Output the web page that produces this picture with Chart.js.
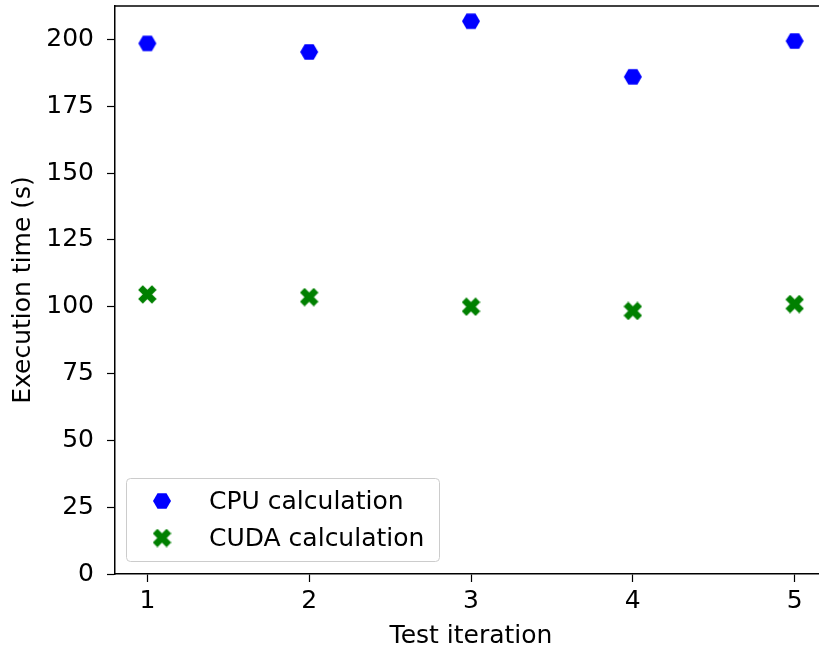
<!DOCTYPE html>
<html>
<head>
<meta charset="utf-8">
<script src="https://cdn.jsdelivr.net/npm/chart.js@4.4.0/dist/chart.umd.min.js"></script>
<style>
    html, body { margin: 0; padding: 0; background: #fff; overflow: hidden; }
    #wrap { width: 840px; height: 653px; }
</style>
</head>
<body>
<div id="wrap"><canvas id="scatter"></canvas></div>
<script>
// Test runs and measured execution times (seconds)
const iterations = [1, 2, 3, 4, 5];
const cpuTimes = [198.5, 195.3, 206.8, 186.0, 199.4];
const cudaTimes = [104.6, 103.6, 100.0, 98.4, 101.0];
const yTicks = [0, 25, 50, 75, 100, 125, 150, 175, 200];

const FONT = 'DejaVu Sans';
const FS = 25;

// Flat-topped hexagon marker
function hexMarker(color, r) {
    const c = document.createElement('canvas');
    const s = Math.ceil(r * 2 + 2);
    c.width = s; c.height = s;
    const g = c.getContext('2d');
    g.fillStyle = color;
    g.beginPath();
    for (let i = 0; i < 6; i++) {
        const a = Math.PI / 3 * i;
        const px = s / 2 + r * Math.cos(a);
        const py = s / 2 + r * Math.sin(a);
        if (i === 0) g.moveTo(px, py); else g.lineTo(px, py);
    }
    g.closePath();
    g.fill();
    return c;
}

// Filled "X" marker
function xMarker(color, r) {
    const c = document.createElement('canvas');
    const s = Math.ceil(r * 2 + 2);
    c.width = s; c.height = s;
    const g = c.getContext('2d');
    g.translate(s / 2, s / 2);
    g.rotate(Math.PI / 4);
    g.fillStyle = color;
    const w = r * 0.78, l = r * 1.15;
    g.fillRect(-l, -w / 2, l * 2, w);
    g.fillRect(-w / 2, -l, w, l * 2);
    return c;
}

const cpuMarker = hexMarker('#0000ff', 9);
const cudaMarker = xMarker('#008000', 8.5);

// Top spine line
const frame = {
    id: 'frame',
    afterDraw(chart) {
        const { ctx, chartArea } = chart;
        ctx.save();
        ctx.strokeStyle = '#000';
        ctx.lineWidth = 1.5;
        ctx.beginPath();
        ctx.moveTo(chartArea.left, chartArea.top);
        ctx.lineTo(chartArea.right, chartArea.top);
        ctx.stroke();
        ctx.restore();
    }
};

// Legend box inside the plot, lower left
const boxLegend = {
    id: 'boxLegend',
    afterDraw(chart) {
        const ctx = chart.ctx;
        const x = 126, y = 478, w = 313, h = 83, r = 4;
        ctx.save();
        ctx.fillStyle = 'rgba(255,255,255,0.8)';
        ctx.strokeStyle = '#cccccc';
        ctx.lineWidth = 1;
        ctx.beginPath();
        ctx.roundRect(x + 0.5, y + 0.5, w, h, r);
        ctx.fill();
        ctx.stroke();
        ctx.font = FS + 'px "' + FONT + '"';
        ctx.fillStyle = '#000';
        ctx.textBaseline = 'middle';
        chart.data.datasets.forEach((ds, i) => {
            const cy = 501 + i * 37;
            const img = ds.pointStyle;
            ctx.drawImage(img, 162 - img.width / 2, cy - img.height / 2);
            ctx.fillText(ds.label, 209, cy + 1);
        });
        ctx.restore();
    }
};

new Chart(document.getElementById('scatter'), {
    type: 'scatter',
    data: {
        datasets: [
            {
                label: 'CPU calculation',
                data: iterations.map((it, i) => ({ x: it, y: cpuTimes[i] })),
                pointStyle: cpuMarker,
                backgroundColor: '#0000ff'
            },
            {
                label: 'CUDA calculation',
                data: iterations.map((it, i) => ({ x: it, y: cudaTimes[i] })),
                pointStyle: cudaMarker,
                backgroundColor: '#008000'
            }
        ]
    },
    options: {
        responsive: true,
        maintainAspectRatio: false,
        animation: false,
        layout: { padding: { left: 0, right: 13, top: 6, bottom: 0 } },
        scales: {
            x: {
                type: 'linear',
                min: 0.8,
                max: 5.2,
                afterBuildTicks: axis => { axis.ticks = iterations.map(v => ({ value: v })); },
                afterFit: axis => { axis.height = 79; axis.paddingLeft = 0; axis.paddingRight = 0; },
                grid: { drawOnChartArea: false, drawTicks: true, tickLength: 8, color: '#000', tickWidth: 1.2 },
                border: { display: true, color: '#000', width: 1.5 },
                ticks: { color: '#000', font: { family: FONT, size: FS }, padding: 4, maxRotation: 0 },
                title: { display: true, text: 'Test iteration', color: '#000', font: { family: FONT, size: FS }, padding: { top: 0, bottom: 2 } }
            },
            y: {
                min: 0,
                max: 212.5,
                afterBuildTicks: axis => { axis.ticks = yTicks.map(v => ({ value: v })); },
                afterFit: axis => { axis.width = 115; axis.paddingTop = 0; axis.paddingBottom = 0; },
                grid: { drawOnChartArea: false, drawTicks: true, tickLength: 8, color: '#000', tickWidth: 1.2 },
                border: { display: true, color: '#000', width: 1.5 },
                ticks: { color: '#000', font: { family: FONT, size: FS }, padding: 13 },
                title: { display: true, text: 'Execution time (s)', color: '#000', font: { family: FONT, size: FS }, padding: { top: 8, bottom: 4 } }
            }
        },
        plugins: {
            legend: { display: false },
            tooltip: { enabled: false }
        }
    },
    plugins: [frame, boxLegend]
});
</script>
</body>
</html>
